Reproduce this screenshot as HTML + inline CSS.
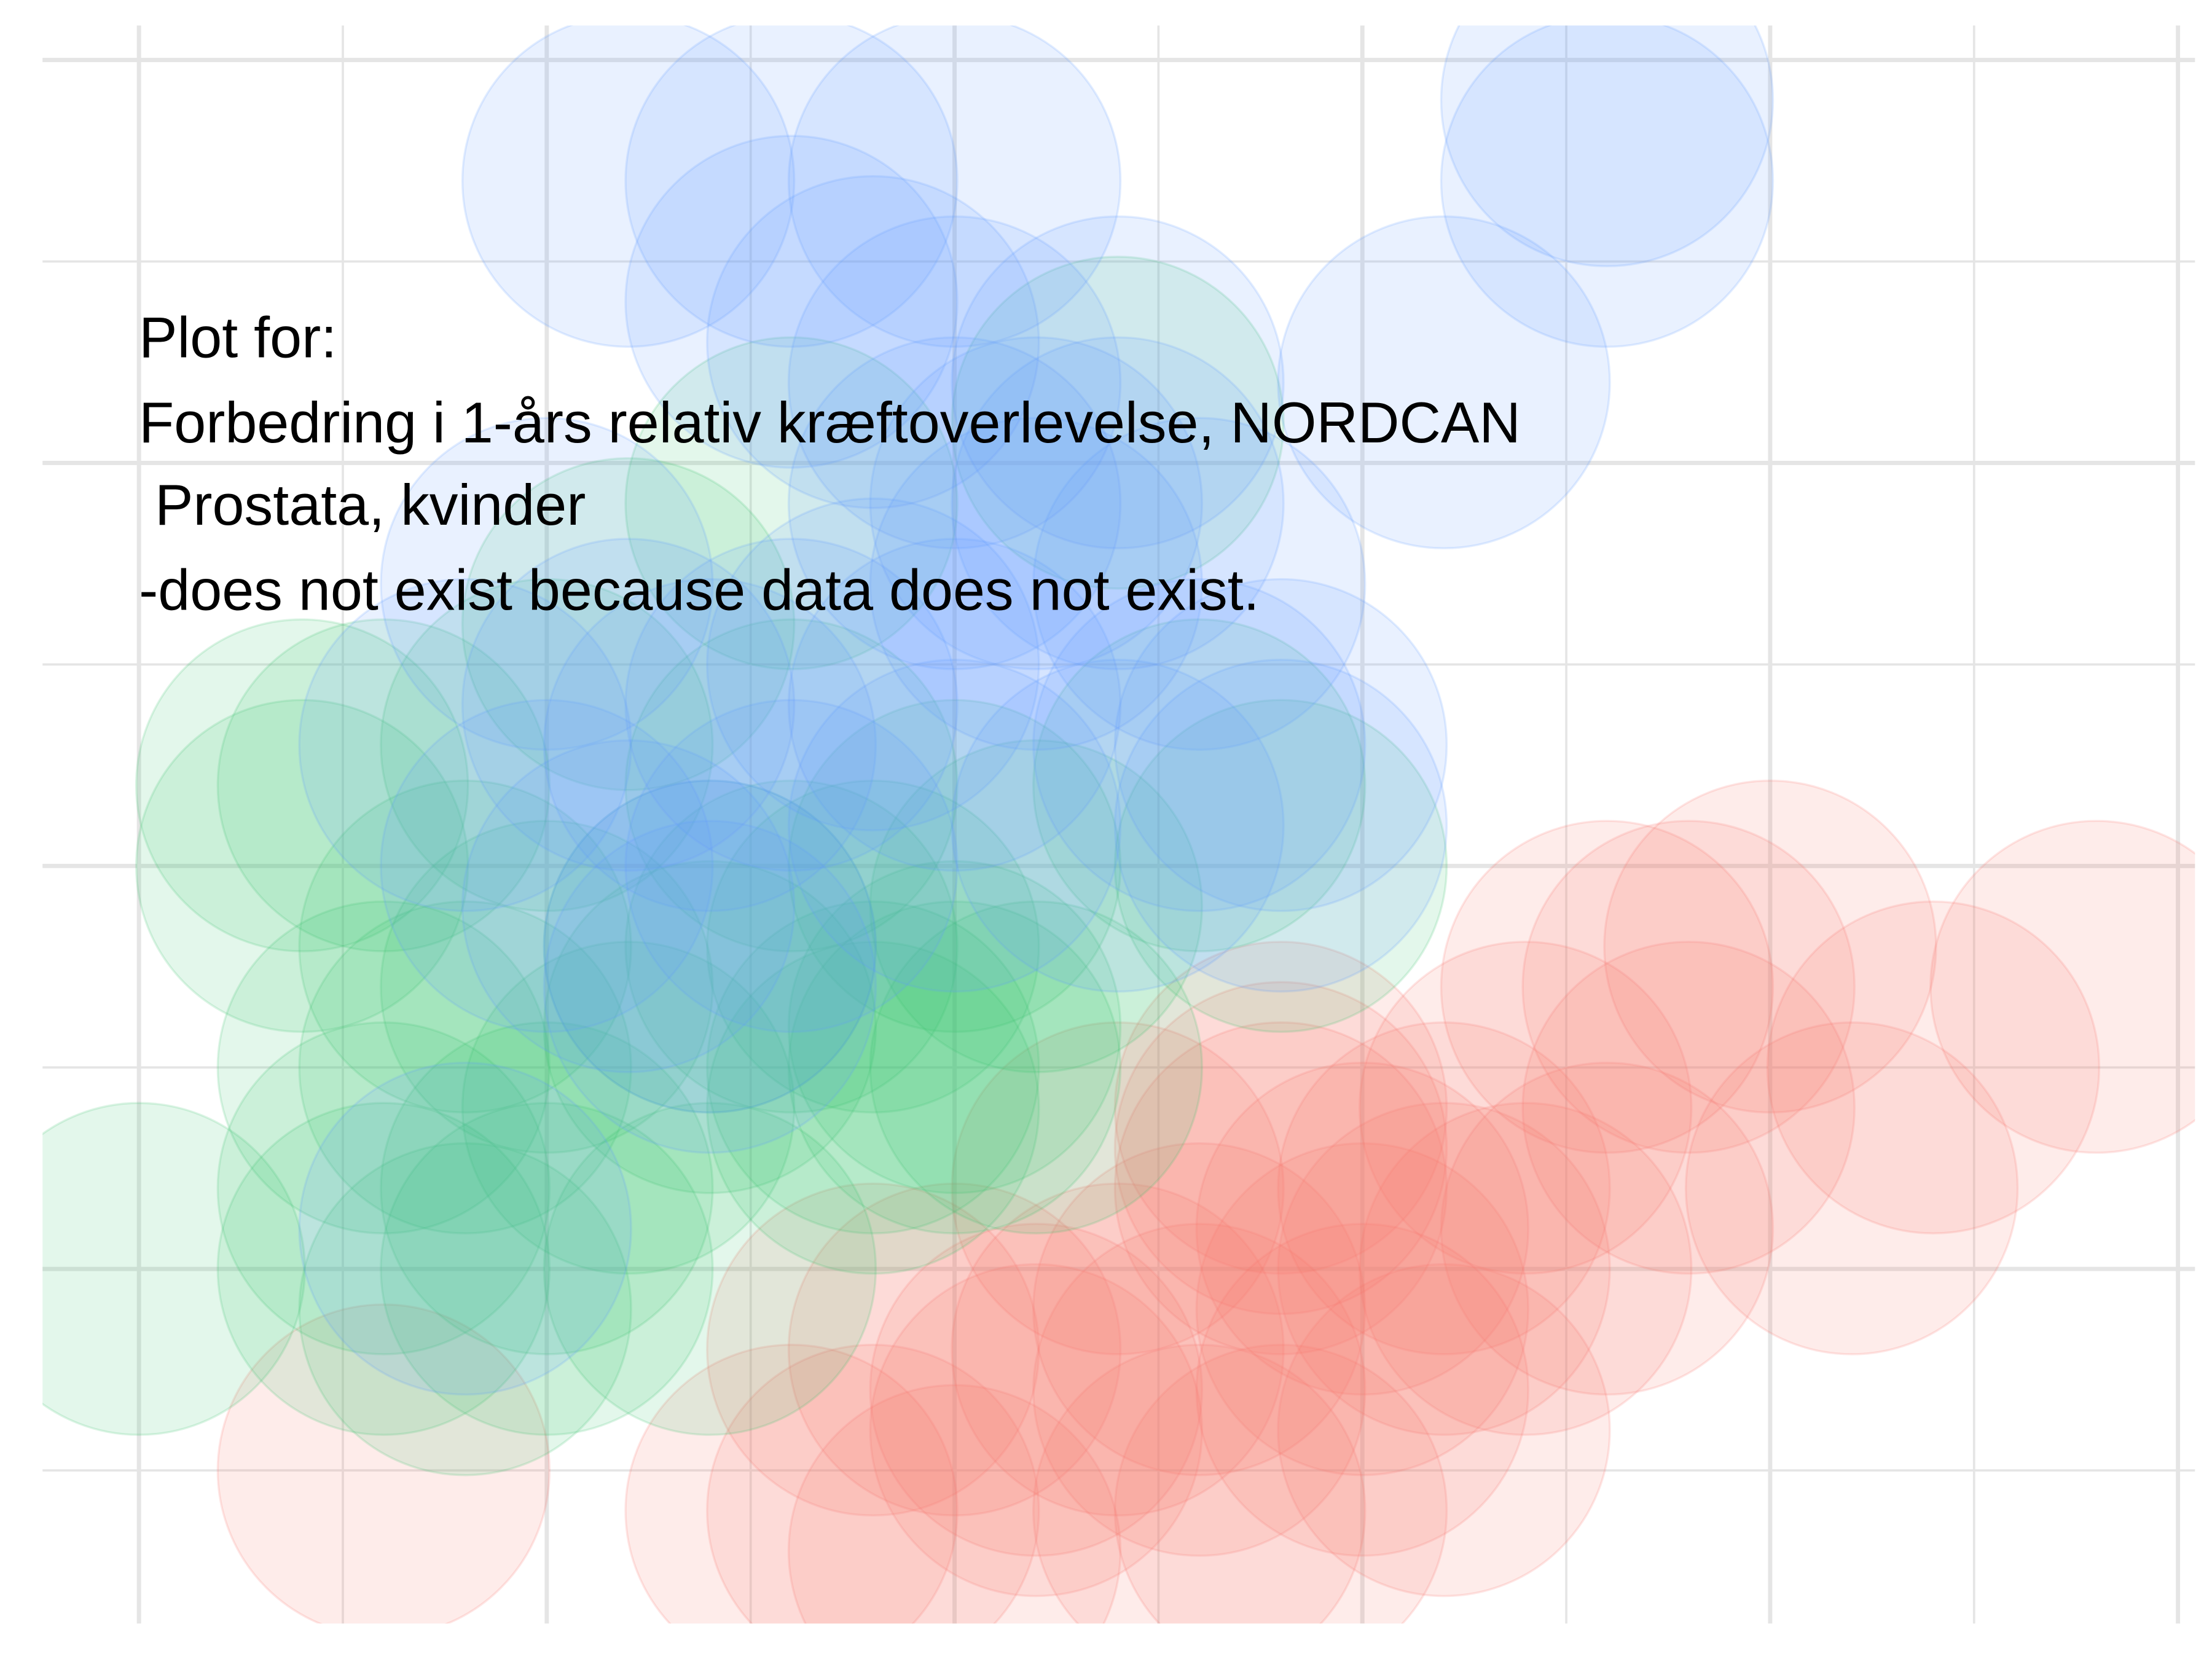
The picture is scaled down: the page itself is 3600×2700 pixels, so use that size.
<!DOCTYPE html>
<html><head><meta charset="utf-8"><style>
html,body{margin:0;padding:0;background:#fff;}
svg{display:block;}
</style></head><body>
<svg width="3600" height="2700" viewBox="0 0 1560 1170" xmlns="http://www.w3.org/2000/svg">
<defs><clipPath id="pc"><rect x="30" y="18" width="1518" height="1127"/></clipPath></defs>
<rect x="0" y="0" width="1560" height="1170" fill="#fff"/>
<g id="grid"></g>
<g id="marks" clip-path="url(#pc)"></g>
<g font-family="Liberation Sans, sans-serif" font-size="40.5" fill="#000">
<text x="98" y="252">Plot for:</text>
<text x="98" y="312">Forbedring i 1-års relativ kræftoverlevelse, NORDCAN</text>
<text x="98" y="370" xml:space="preserve"> Prostata, kvinder</text>
<text x="98" y="430">-does not exist because data does not exist.</text>
</g>
</svg>
<script>
const blueX = [2.4,3.2,4.0,7.2,7.2,3.2,3.6,4.0,4.8,6.4,4.0,4.4,4.8,4.4,5.2,2.0,2.4,3.2,4.0,5.2,5.6,2.8,3.2,2.0,1.6,2.8,4.0,3.6,1.6,4.8,5.6,2.8,2.4];
const blueY = [6.4,6.4,6.4,6.8,6.4,5.8,5.6,5.4,5.4,5.4,4.8,4.8,4.8,4.4,4.4,4.4,3.8,3.8,3.8,3.6,3.6,3.6,3.0,3.0,3.6,2.6,3.2,4.0,1.2,3.2,3.2,2.4,2.8];
const greenX = [0.8,0.8,1.2,2.0,1.2,1.6,0,1.2,1.6,2.0,2.4,2.8,3.2,3.6,4.0,4.4,5.2,5.6,4.8,3.2,2.4,1.6,2.0,2.8,3.6,4.4,3.2,2.8,4.0,4.0,1.2,2.0,3.6];
const greenY = [3.4,3.0,3.4,3.6,2.0,2.0,1.0,1.0,0.8,1.0,1.8,2.6,2.6,2.6,2.2,2.8,3.4,3.0,5.2,4.8,4.2,2.6,2.4,2.2,2.0,2.0,3.4,1.0,3.0,2.0,1.4,1.4,1.8];
const redX = [7.2,8.0,9.6,8.8,6.8,7.6,8.4,7.2,6.0,5.6,5.6,6.4,5.2,4.8,4.0,4.4,3.6,4.0,5.2,6.4,1.2,5.6,6.0,6.8,5.2,4.4,3.6,6.4,7.6,4.8,3.2,6.0,5.6];
const redY = [2.4,2.6,2.4,2.0,1.8,1.8,1.4,1.2,1.2,1.4,1.8,1.0,0.8,0.6,0.6,0.4,-0.2,-0.4,-0.2,0.2,0,-0.2,0.8,1.0,0.4,0.2,0.6,1.4,2.4,1.4,-0.2,0.4,1.6];
const xTicks = [0,1,2,3,4,5,6,7,8,9,10];
const yTicks = [0,1,2,3,4,5,6,7];

const X0=98, XS=143.8, Y0=1037, YS=142.1, R=117;
const sx = v => X0 + v*XS;
const sy = v => Y0 - v*YS;
const NS='http://www.w3.org/2000/svg';
const grid=document.getElementById('grid');
xTicks.forEach((t,i)=>{
  const l=document.createElementNS(NS,'line');
  
  
  l.setAttribute('x1',sx(t));l.setAttribute('x2',sx(t));
  l.setAttribute('y1',18);l.setAttribute('y2',1145);
  l.setAttribute('stroke','#e5e5e5');l.setAttribute('stroke-width',i%2==0?3:1.6);
  grid.appendChild(l);
});
yTicks.forEach((t,i)=>{
  const l=document.createElementNS(NS,'line');
  
  
  l.setAttribute('y1',sy(t));l.setAttribute('y2',sy(t));
  l.setAttribute('x1',30);l.setAttribute('x2',1548);
  l.setAttribute('stroke','#e5e5e5');l.setAttribute('stroke-width',(7-i)%2==0?3:1.6);
  grid.appendChild(l);
});
const marks=document.getElementById('marks');
function draw(xs,ys,col,name){
  xs.forEach((x,i)=>{
    const c=document.createElementNS(NS,'circle');
    
    
    c.setAttribute('cx',sx(x));c.setAttribute('cy',sy(ys[i]));c.setAttribute('r',R);
    c.setAttribute('fill',col);c.setAttribute('fill-opacity',0.14);
    c.setAttribute('stroke',col);c.setAttribute('stroke-opacity',0.18);c.setAttribute('stroke-width',1.5);
    marks.appendChild(c);
  });
}
draw(redX,redY,'#F8766D','bubble-red');
draw(greenX,greenY,'#3CC46E','bubble-green');
draw(blueX,blueY,'#619CFF','bubble-blue');
</script>
</body></html>
